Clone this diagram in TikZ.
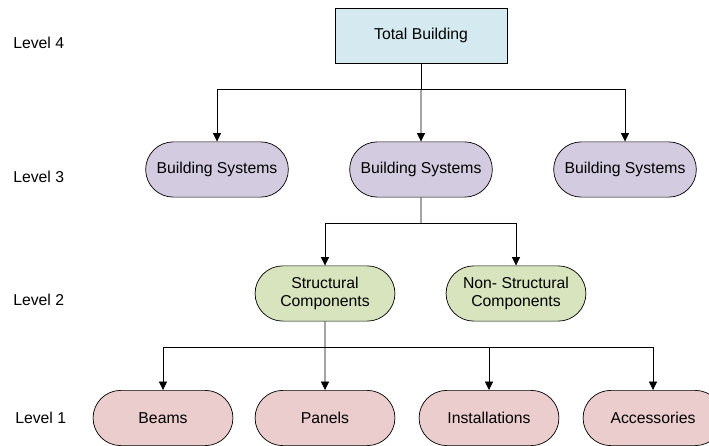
\documentclass[tikz,border=0pt]{standalone}
\usepackage{fontspec}
\setmainfont{Liberation Sans}
\usetikzlibrary{arrows.meta,positioning,shapes.misc}
\definecolor{TopCyan}{RGB}{212,234,240}
\definecolor{SysLilac}{RGB}{211,204,224}
\definecolor{CompGreen}{RGB}{215,228,189}
\definecolor{PartRose}{RGB}{234,205,204}
\tikzset{
  topbox/.style={draw=black,line width=0.6pt,fill=TopCyan,
    minimum width=4.3cm,minimum height=1.375cm,align=center},
  levelbox/.style={draw=black,line width=0.5pt,rounded rectangle,
    minimum width=3.8cm,minimum height=1.38cm,align=center},
  levellabel/.style={anchor=west,inner sep=0pt},
  flowarrow/.style={-{Triangle[length=2.1mm,width=2.0mm]},
    line width=0.5pt,draw=black},
  flowline/.style={line width=0.5pt,draw=black},
}
\begin{document}
\begin{tikzpicture}[x=0.025cm,y=-0.025cm,
    every node/.style={font=\fontsize{11.2}{12.8}\selectfont}]
  \useasboundingbox (0,0) rectangle (709,446);
  % level labels
  \node[levellabel] (lvfour)  at (13,43)  {Level 4};
  \node[levellabel] (lvthree) at (13,177) {Level 3};
  \node[levellabel] (lvtwo)   at (13,300) {Level 2};
  \node[levellabel] (lvone)   at (15,418) {Level 1};
  % level 4
  \node[topbox] (total) at (421,35.5) {Total Building};
  % level 3
  \node[levelbox,fill=SysLilac] (sysleft)  at (217,169.5) {Building Systems};
  \node[levelbox,fill=SysLilac] (sysmid)   at (421,169.5) {Building Systems};
  \node[levelbox,fill=SysLilac] (sysright) at (625,169.5) {Building Systems};
  % level 2
  \node[levelbox,fill=CompGreen,minimum width=3.73cm] (struct)  at (325,293.5)
    {Structural\\Components};
  \node[levelbox,fill=CompGreen,minimum width=3.73cm] (nonstruct) at (516,293.5)
    {Non- Structural\\Components};
  % level 1
  \node[levelbox,fill=PartRose,minimum width=3.73cm] (beams)  at (163,418) {Beams};
  \node[levelbox,fill=PartRose,minimum width=3.73cm] (panels) at (325,418) {Panels};
  \node[levelbox,fill=PartRose,minimum width=3.73cm] (install) at (489,418) {Installations};
  \node[levelbox,fill=PartRose,minimum width=3.73cm] (access) at (653,418) {Accessories};
  % connectors
  \coordinate (splitfour)  at (421,89);
  \coordinate (splitthree) at (421,223);
  \coordinate (splittwo)   at (325,347);
  \draw[flowline] (total) -- (splitfour);
  \draw[flowarrow] (splitfour) -| (sysleft);
  \draw[flowarrow] (splitfour) -- (sysmid);
  \draw[flowarrow] (splitfour) -| (sysright);
  \draw[flowline] (sysmid) -- (splitthree);
  \draw[flowarrow] (splitthree) -| (struct);
  \draw[flowarrow] (splitthree) -| (nonstruct);
  \draw[flowline] (struct) -- (splittwo);
  \draw[flowarrow] (splittwo) -| (beams);
  \draw[flowarrow] (splittwo) -- (panels);
  \draw[flowarrow] (splittwo) -| (install);
  \draw[flowarrow] (splittwo) -| (access);
\end{tikzpicture}
\end{document}
